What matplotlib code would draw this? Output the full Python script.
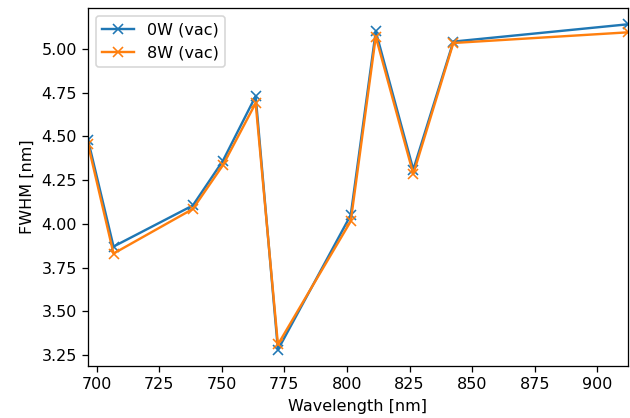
import matplotlib
matplotlib.use("Agg")
import matplotlib.pyplot as plt

wavelength = [696.5, 706.7, 738.4, 750.4, 763.5, 772.4, 801.5, 811.5, 826.5, 842.5, 912.3]
fwhm_0w = [4.48, 3.87, 4.105, 4.36, 4.73, 3.28, 4.05, 5.10, 4.31, 5.042, 5.141]
fwhm_8w = [4.455, 3.83, 4.085, 4.335, 4.69, 3.31, 4.015, 5.07, 4.285, 5.034, 5.095]
labels = ["0W (vac)", "8W (vac)"]

DPI = 115
fig = plt.figure(figsize=(630/DPI, 418/DPI), dpi=DPI)
ax = fig.add_axes([88/630, 1-366/418, (628-88)/630, (366-8)/418])
ax.plot(wavelength, fwhm_0w, marker="x", label=labels[0])
ax.plot(wavelength, fwhm_8w, marker="x", label=labels[1])
ax.set_xlim(min(wavelength), max(wavelength))
ax.set_xlabel("Wavelength [nm]")
ax.set_ylabel("FWHM [nm]")
ax.legend(loc="upper left")
fig.savefig("out.png", dpi=DPI)
